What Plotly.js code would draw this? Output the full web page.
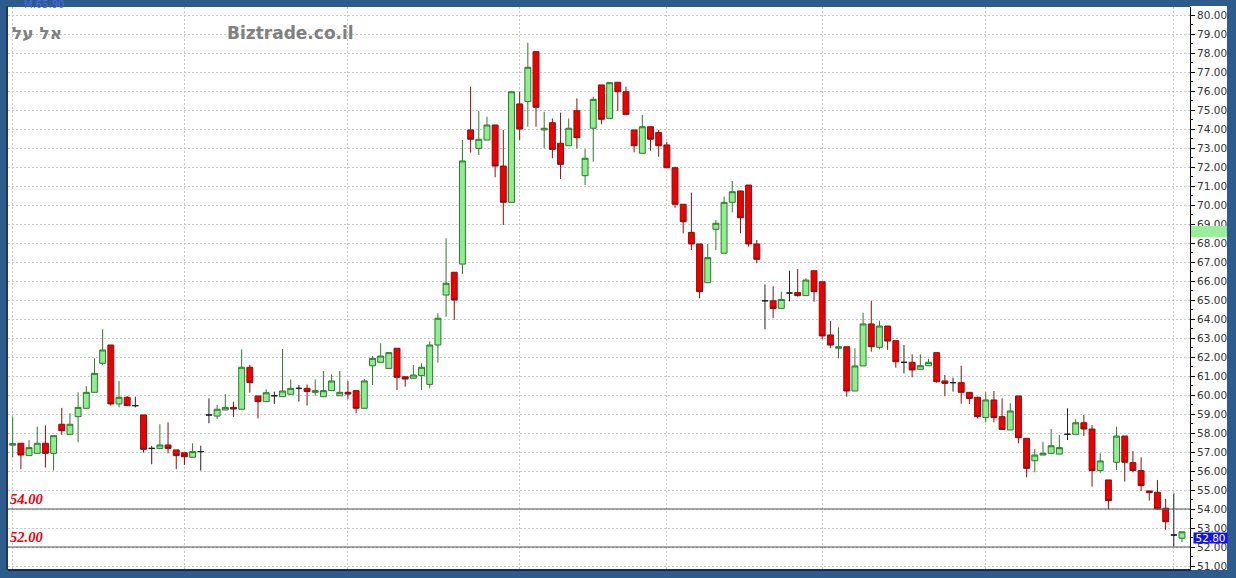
<!DOCTYPE html>
<html>
<head>
<meta charset="utf-8">
<script src="https://cdn.plot.ly/plotly-3.0.1.min.js"></script>
<style>
html,body{margin:0;padding:0;background:#2e5b8e;overflow:hidden}
#chart{width:1236px;height:578px}
</style>
</head>
<body>
<div id="chart"></div>
<script>
// ---- data, one candle per trading session ----
const openP = [
 57.36,57.46,56.81,56.93,57.46,56.93,58.46,57.93,58.86,59.30,
 60.14,61.67,62.63,59.53,59.88,59.44,58.95,57.19,57.19,57.37,
 57.11,56.96,56.72,57.02,58.95,58.89,59.21,59.35,59.25,61.46,
 59.95,59.65,59.96,59.91,60.04,60.35,60.35,60.14,59.91,60.23,
 59.96,60.14,60.23,59.30,61.54,61.72,61.40,62.46,60.96,60.88,
 61.02,60.56,62.63,65.26,66.46,66.89,73.95,72.98,73.42,74.21,
 72.05,70.14,75.32,75.44,78.07,73.95,74.33,73.25,73.12,74.96,
 71.54,74.04,76.32,74.56,76.46,75.96,73.95,72.72,74.12,73.82,
 73.16,71.96,70.04,68.56,67.95,65.91,68.72,67.46,70.14,70.74,
 71.05,67.95,64.96,64.96,64.56,65.37,65.39,65.23,66.54,65.96,
 63.16,62.46,62.54,60.21,61.53,63.74,62.51,63.63,62.86,61.72,
 61.72,61.35,61.54,62.23,60.74,60.65,60.65,60.14,59.88,58.81,
 59.74,58.86,58.16,59.95,57.72,56.54,56.84,56.93,56.89,57.93,
 57.93,58.54,58.21,56.02,55.53,56.46,57.84,56.44,56.02,54.95,
 54.88,54.04,52.63,52.46];
const highP = [
 58.86,57.46,57.63,58.33,58.40,57.86,59.32,59.04,60.14,60.47,
 61.93,63.46,62.63,60.74,59.95,59.91,58.95,57.32,58.46,58.56,
 57.11,56.96,57.46,57.33,59.82,59.47,60.05,59.65,62.40,61.58,
 59.95,60.30,60.18,62.42,60.82,60.53,60.56,60.82,61.26,61.09,
 61.26,60.74,60.23,60.84,62.05,62.72,62.23,62.46,60.96,61.58,
 61.67,62.81,64.30,68.25,66.46,73.42,76.23,74.95,74.65,74.21,
 73.95,75.96,75.96,78.54,78.07,74.91,74.56,74.86,74.56,75.61,
 72.95,75.70,76.32,76.44,76.46,76.23,73.95,74.74,74.12,73.95,
 73.33,72.02,70.04,70.65,67.95,67.95,69.21,70.44,71.26,70.74,
 71.05,68.16,65.82,65.72,65.44,66.54,66.63,66.14,66.54,65.96,
 63.91,63.56,62.54,62.46,64.33,64.96,63.91,63.63,62.86,62.63,
 62.14,62.14,61.91,62.23,61.05,60.91,61.54,60.14,59.91,60.14,
 60.21,59.82,59.56,59.95,57.72,57.16,57.54,58.21,57.89,59.30,
 58.72,58.95,58.42,56.93,55.53,58.33,57.84,57.05,56.72,54.95,
 55.53,54.53,54.82,52.80];
const lowP = [
 56.72,56.10,56.81,56.93,56.18,56.02,57.90,57.93,57.51,59.30,
 60.14,61.58,59.44,59.35,59.44,59.35,56.97,56.35,57.19,56.93,
 56.10,56.32,56.72,56.02,58.51,58.74,59.21,58.86,59.25,60.12,
 58.77,59.65,59.53,59.91,60.04,59.65,59.44,59.96,59.91,60.23,
 59.96,59.77,59.04,59.30,60.53,61.72,61.40,60.26,60.44,60.88,
 60.26,60.35,61.70,64.12,63.95,66.37,72.76,72.63,73.42,71.46,
 68.95,70.14,73.42,74.12,74.12,72.98,72.46,71.37,73.12,72.98,
 71.05,72.28,74.25,74.56,74.96,74.77,72.77,72.72,72.86,72.54,
 71.96,69.86,68.51,67.63,65.09,65.91,67.63,67.46,69.61,68.51,
 67.81,66.93,63.46,64.04,64.56,64.93,65.18,65.23,64.91,62.93,
 62.46,61.93,59.91,60.21,61.53,62.28,62.40,62.37,61.44,61.14,
 60.93,61.35,61.54,60.65,59.93,60.18,59.54,59.53,58.77,58.56,
 58.56,58.19,58.16,57.46,55.67,55.93,56.84,56.93,56.89,57.63,
 57.93,57.84,55.18,55.91,54.00,56.05,55.44,55.93,54.95,54.44,
 53.98,52.90,52.02,52.25];
const closeP = [
 57.44,56.84,57.23,57.46,56.93,57.86,58.12,58.46,59.35,60.14,
 61.14,62.37,59.53,59.88,59.44,59.44,57.14,57.19,57.37,57.19,
 56.81,56.75,57.02,57.02,58.95,59.25,59.35,59.26,61.46,60.65,
 59.65,60.12,59.96,60.21,60.35,60.35,60.18,60.23,60.23,60.74,
 60.14,60.05,59.30,60.74,61.93,62.05,62.23,60.93,60.84,61.05,
 61.46,62.63,64.04,65.88,65.00,72.32,73.46,73.46,74.21,72.05,
 70.14,75.96,74.00,77.25,75.14,74.04,72.93,72.14,74.04,73.54,
 72.46,75.56,74.51,76.44,75.96,74.77,73.12,74.12,73.46,73.12,
 71.96,70.04,69.12,67.95,65.44,67.23,69.04,70.14,70.70,69.33,
 67.95,67.14,64.96,64.55,65.03,65.37,65.23,66.05,65.44,63.11,
 62.63,62.54,60.21,61.53,63.74,62.54,63.63,62.84,61.75,61.72,
 61.32,61.54,61.72,60.70,60.61,60.65,60.14,59.82,58.86,59.74,
 58.81,58.19,59.16,57.75,56.14,56.84,56.93,57.33,57.23,57.93,
 58.54,58.21,56.02,56.53,54.44,57.84,56.46,56.02,55.23,54.86,
 54.00,53.33,52.63,52.80];
const monthStarts = [0, 21, 41, 62, 80, 99, 119, 142];
const levelValues = [54, 52];
const levelLabels = ['54.00', '52.00'];
const lastPrice = 52.80;
const stockName = 'אל על';
const siteName = 'Biztrade.co.il';
const topNote = 'M.65.90';
const markerBand = [68.30, 68.89];

// ---- build traces ----
const idx = openP.map((_, i) => i);
const isDoji = idx.map(i => openP[i] === closeP[i]);
const pick = (arr, keep) => arr.map((v, i) => keep(i) ? v : null);
const mainTrace = {
  type: 'candlestick', x: idx,
  open: pick(openP, i => !isDoji[i]), high: pick(highP, i => !isDoji[i]),
  low: pick(lowP, i => !isDoji[i]), close: pick(closeP, i => !isDoji[i]),
  increasing: {line: {color: '#2c7a2c', width: 1}, fillcolor: '#90ee90'},
  decreasing: {line: {color: '#8a0f0f', width: 1}, fillcolor: '#ee0000'},
  whiskerwidth: 0, hoverinfo: 'none', showlegend: false
};
const dojiTrace = {
  type: 'candlestick', x: idx,
  open: pick(openP, i => isDoji[i]), high: pick(highP, i => isDoji[i]),
  low: pick(lowP, i => isDoji[i]), close: pick(closeP, i => isDoji[i]),
  increasing: {line: {color: '#222', width: 1}, fillcolor: '#222'},
  decreasing: {line: {color: '#222', width: 1}, fillcolor: '#222'},
  whiskerwidth: 0, hoverinfo: 'none', showlegend: false
};

// ---- geometry helpers (page pixels -> paper) ----
const PL = 8, PR = 1190, PT = 7, PB = 569;
const px = v => (v - PL) / (PR - PL);
const py = v => (PB - v) / (PB - PT);

const shapes = [
  {type: 'rect', xref: 'paper', yref: 'paper', x0: 1, x1: px(1227), y0: py(570), y1: py(6),
   fillcolor: '#ffffff', line: {width: 0}, layer: 'below'},
  {type: 'line', xref: 'paper', yref: 'paper', x0: px(7), x1: px(7), y0: py(570), y1: py(6),
   line: {color: '#1b2c48', width: 1.5}},
  {type: 'rect', xref: 'paper', yref: 'y', x0: px(1191), x1: px(1227), y0: markerBand[0], y1: markerBand[1],
   fillcolor: '#99ee99', line: {width: 0}, layer: 'above'}
];
levelValues.forEach(v => shapes.push({type: 'line', xref: 'paper', yref: 'y', x0: 0, x1: 1, y0: v, y1: v,
  line: {color: '#555555', width: 1.2}}));

const annotations = [
  {xref: 'paper', yref: 'paper', x: px(22), y: py(5), xanchor: 'left', yanchor: 'middle', showarrow: false,
   text: topNote, font: {family: 'DejaVu Sans', size: 10, color: '#4a6ae0'}},
  {xref: 'paper', yref: 'paper', x: px(10), y: py(33), xanchor: 'left', yanchor: 'middle', showarrow: false,
   text: stockName, font: {family: 'DejaVu Sans', size: 17, color: '#808080', weight: 'bold'}},
  {xref: 'paper', yref: 'paper', x: px(290), y: py(33), xanchor: 'center', yanchor: 'middle', showarrow: false,
   text: siteName, font: {family: 'DejaVu Sans', size: 17, color: '#808080', weight: 'bold'}},
  {xref: 'paper', yref: 'y', x: px(1193), y: 52.47, xanchor: 'left', yanchor: 'middle', showarrow: false,
   text: lastPrice.toFixed(2), bgcolor: '#1010e8', borderpad: 0, width: 33, height: 10,
   font: {family: 'DejaVu Sans', size: 10.5, color: '#ffffff'}}
];
levelValues.forEach((v, k) => annotations.push({xref: 'paper', yref: 'y', x: px(8), y: v, xanchor: 'left',
  yanchor: 'bottom', showarrow: false, text: levelLabels[k],
  font: {family: 'Liberation Serif', size: 14.5, color: '#e8000b', weight: 'bold', style: 'italic'}}));

const layout = {
  width: 1236, height: 578,
  margin: {l: PL, r: 1236 - PR, t: PT, b: 578 - PB, pad: 0},
  paper_bgcolor: '#2e5b8e', plot_bgcolor: '#ffffff',
  showlegend: false, boxgap: 0.15, boxgroupgap: 0.15, boxmode: 'overlay',
  xaxis: {range: [-0.575, 143.98], tickvals: monthStarts, showticklabels: false, ticks: '',
    showgrid: true, gridcolor: '#c8c8c8', griddash: '2px,2px', gridwidth: 1, zeroline: false,
    showline: true, linecolor: '#1b2c48', linewidth: 2, rangeslider: {visible: false}, fixedrange: true},
  yaxis: {side: 'right', range: [50.842, 80.421], dtick: 1, tick0: 0, tickformat: '.2f',
    ticks: 'outside', ticklen: 4, tickwidth: 1, tickcolor: '#000',
    minor: {dtick: 0.5, ticks: 'outside', ticklen: 2, tickcolor: '#000', showgrid: false},
    tickfont: {family: 'DejaVu Sans', size: 10.5, color: '#333'},
    showline: true, linecolor: '#000', linewidth: 1,
    showgrid: true, gridcolor: '#c8c8c8', griddash: '2px,2px', gridwidth: 1, zeroline: false, fixedrange: true},
  shapes: shapes, annotations: annotations
};

Plotly.newPlot('chart', [mainTrace, dojiTrace], layout, {displayModeBar: false, staticPlot: true});
</script>
</body>
</html>
